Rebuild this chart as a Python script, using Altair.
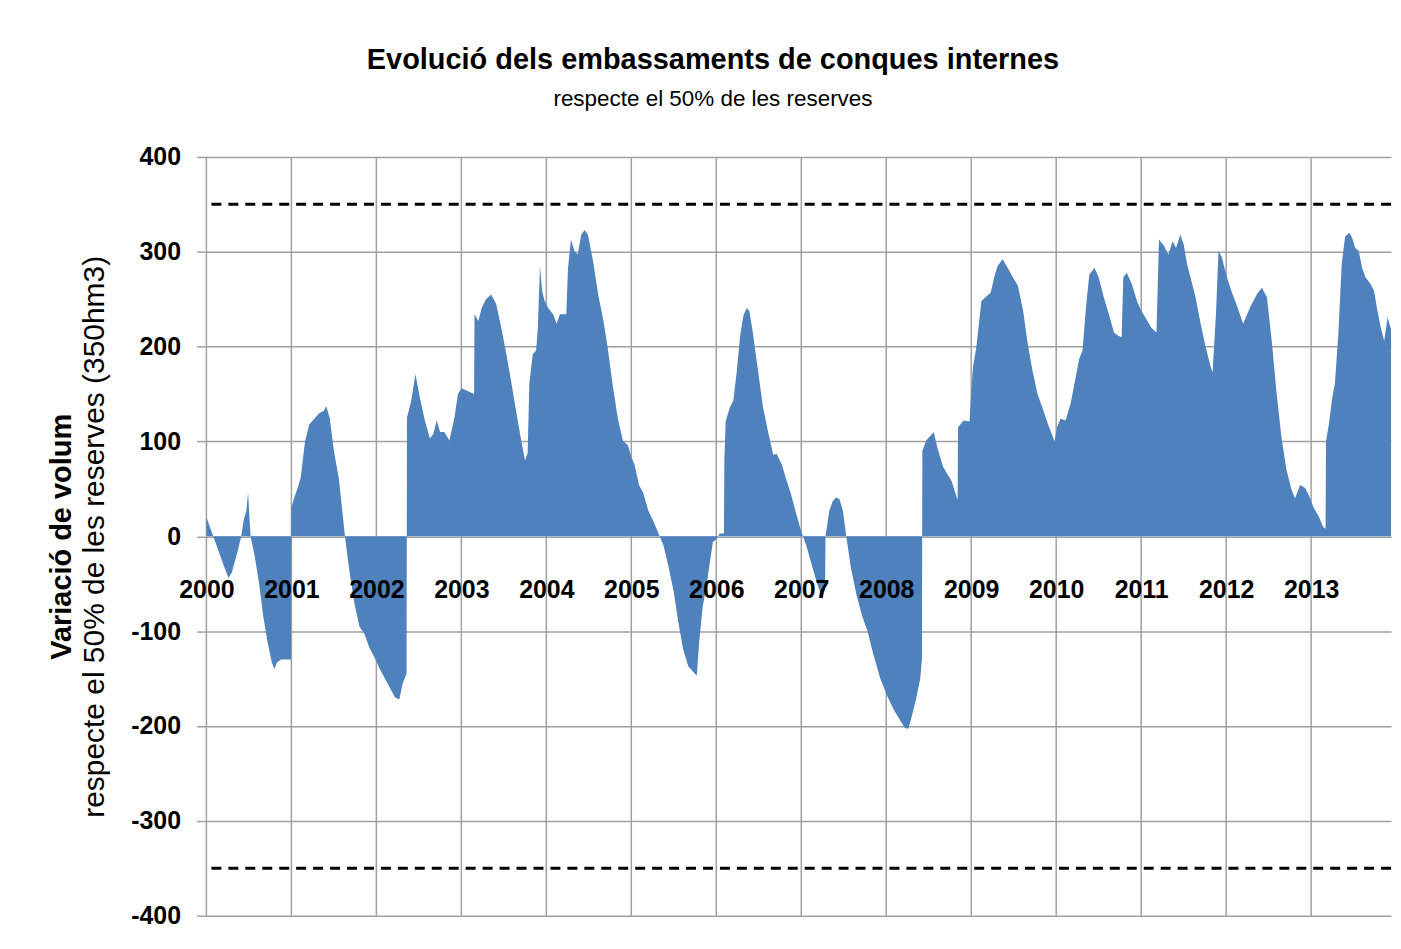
import altair as alt
import pandas as pd

# ---- data (decimal year, hm3 relative to 50% of reserves) ----
years = [
    2000.00, 2000.04, 2000.08, 2000.14, 2000.20, 2000.26, 2000.30, 2000.36, 2000.41, 2000.44,
    2000.47, 2000.49, 2000.505, 2000.52, 2000.57, 2000.62, 2000.67, 2000.72, 2000.77, 2000.80,
    2000.83, 2000.88, 2000.995, 2001.00, 2001.03, 2001.07, 2001.11, 2001.16, 2001.21, 2001.27,
    2001.33, 2001.38, 2001.41, 2001.45, 2001.50, 2001.56, 2001.63, 2001.68, 2001.74, 2001.80,
    2001.86, 2001.92, 2001.98, 2002.04, 2002.10, 2002.16, 2002.22, 2002.27, 2002.31, 2002.355,
    2002.36, 2002.41, 2002.46, 2002.51, 2002.57, 2002.63, 2002.67, 2002.71, 2002.75, 2002.80,
    2002.86, 2002.92, 2002.96, 2003.00, 2003.08, 2003.15, 2003.155, 2003.20, 2003.24, 2003.29,
    2003.35, 2003.41, 2003.47, 2003.53, 2003.59, 2003.65, 2003.71, 2003.75, 2003.78, 2003.80,
    2003.84, 2003.88, 2003.90, 2003.925, 2003.95, 2003.98, 2004.02, 2004.08, 2004.12, 2004.16,
    2004.235, 2004.255, 2004.29, 2004.33, 2004.37, 2004.41, 2004.45, 2004.49, 2004.55, 2004.61,
    2004.67, 2004.72, 2004.78, 2004.84, 2004.90, 2004.96, 2005.00, 2005.04, 2005.09, 2005.14,
    2005.20, 2005.26, 2005.32, 2005.38, 2005.44, 2005.50, 2005.55, 2005.61, 2005.67, 2005.73,
    2005.77, 2005.80, 2005.84, 2005.88, 2005.92, 2005.96, 2006.00, 2006.04, 2006.09, 2006.095,
    2006.11, 2006.16, 2006.20, 2006.24, 2006.28, 2006.32, 2006.36, 2006.39, 2006.43, 2006.49,
    2006.55, 2006.61, 2006.67, 2006.71, 2006.77, 2006.82, 2006.88, 2006.94, 2007.00, 2007.06,
    2007.12, 2007.18, 2007.25, 2007.28, 2007.285, 2007.33, 2007.37, 2007.41, 2007.45, 2007.49,
    2007.53, 2007.58, 2007.65, 2007.72, 2007.78, 2007.85, 2007.93, 2008.01, 2008.09, 2008.17,
    2008.22, 2008.26, 2008.30, 2008.35, 2008.40, 2008.42, 2008.425, 2008.47, 2008.56, 2008.60,
    2008.67, 2008.77, 2008.84, 2008.845, 2008.91, 2008.98, 2009.02, 2009.06, 2009.12, 2009.18,
    2009.23, 2009.27, 2009.31, 2009.37, 2009.43, 2009.49, 2009.55, 2009.61, 2009.66, 2009.72,
    2009.78, 2009.84, 2009.90, 2009.96, 2009.98, 2010.01, 2010.05, 2010.11, 2010.17, 2010.23,
    2010.27, 2010.31, 2010.35, 2010.39, 2010.45, 2010.50, 2010.56, 2010.62, 2010.68, 2010.72,
    2010.77, 2010.79, 2010.83, 2010.89, 2010.95, 2011.00, 2011.06, 2011.12, 2011.18, 2011.21,
    2011.27, 2011.32, 2011.37, 2011.41, 2011.46, 2011.50, 2011.54, 2011.58, 2011.64, 2011.70,
    2011.76, 2011.82, 2011.84, 2011.88, 2011.91, 2011.95, 2012.00, 2012.06, 2012.12, 2012.20,
    2012.28, 2012.36, 2012.42, 2012.48, 2012.54, 2012.59, 2012.65, 2012.71, 2012.77, 2012.81,
    2012.87, 2012.93, 2012.98, 2013.03, 2013.09, 2013.14, 2013.17, 2013.175, 2013.21, 2013.25,
    2013.28, 2013.32, 2013.36, 2013.40, 2013.45, 2013.48, 2013.52, 2013.56, 2013.60, 2013.64,
    2013.70, 2013.74, 2013.78, 2013.82, 2013.86, 2013.90, 2013.94,
]
values = [
    20, 10, 0, -15, -30, -44, -38, -18, 0, 18,
    27, 46, 22, 0, -22, -50, -85, -112, -133, -140,
    -133, -130, -130, 30, 40, 50, 62, 100, 118, 124,
    130, 132, 137, 125, 90, 60, 0, -35, -70, -95,
    -103, -118, -128, -140, -150, -160, -170, -172, -155, -145,
    125, 143, 171, 147, 122, 103, 108, 122, 110, 110,
    101, 126, 150, 156, 153, 150, 234, 227, 241, 250,
    255, 245, 220, 192, 161, 129, 98, 80, 88, 161,
    192, 196, 220, 285, 259, 248, 241, 234, 224, 234,
    234, 283, 313, 301, 297, 318, 323, 318, 290, 255,
    228, 200, 160, 125, 101, 96, 84, 75, 54, 46,
    27, 16, 3, -10, -33, -59, -89, -119, -137, -143,
    -147, -110, -74, -55, -30, -6, -3, 3, 3, 80,
    121, 136, 143, 173, 211, 233, 241, 237, 215, 175,
    136, 110, 86, 87, 76, 61, 44, 24, 5, -10,
    -29, -48, -66, -55, 0, 27, 37, 41, 39, 27,
    0, -31, -62, -85, -100, -125, -150, -168, -183, -195,
    -202, -203, -190, -172, -150, -130, 90, 101, 110, 94,
    73, 58, 38, 115, 122, 121, 178, 199, 248, 253,
    257, 273, 285, 292, 283, 273, 264, 238, 206, 175,
    150, 135, 119, 105, 100, 115, 124, 122, 140, 168,
    187, 196, 241, 276, 283, 273, 252, 234, 215, 212,
    210, 273, 278, 266, 248, 238, 229, 220, 215, 313,
    306, 297, 311, 304, 318, 308, 287, 273, 252, 224,
    199, 178, 173, 234, 301, 294, 276, 259, 245, 224,
    241, 255, 262, 252, 203, 154, 105, 70, 49, 40,
    54, 51, 42, 30, 21, 10, 8, 100, 119, 147,
    161, 213, 287, 316, 320, 315, 304, 301, 283, 273,
    266, 259, 238, 220, 206, 231, 218,
]
grid_years = list(range(2000, 2014))
limit_levels = [350, -350]
y_ticks = [-400, -300, -200, -100, 0, 100, 200, 300, 400]

title_text = "Evolució dels embassaments de conques internes"
subtitle_text = "respecte el 50% de les reserves"
y_title_1 = "Variació de volum"
y_title_2 = "respecte el 50% de les reserves (350hm3)"

FONT = "Liberation Sans, Arial, sans-serif"
GRID = "#a0a0a0"

series = pd.DataFrame({"t": years, "v": values})
grid_df = pd.DataFrame({"t": grid_years})
lim_df = pd.DataFrame({"v": limit_levels})

xscale = alt.Scale(domain=[2000, 2013.94], nice=False, zero=False)
yscale = alt.Scale(domain=[-400, 400], nice=False)

x_axis = alt.Axis(
    values=grid_years, format="d", title=None, orient="bottom",
    offset=-380.5, domain=False, ticks=False, tickSize=0, grid=False,
    labelFont=FONT, labelFontSize=25, labelFontWeight="bold", labelColor="black",
    labelPadding=41, labelFlush=False, labelOverlap=False, labelBound=False, zindex=2,
)

vgrid = alt.Chart(grid_df).mark_rule(color=GRID, strokeWidth=1.5).encode(
    x=alt.X("t:Q", scale=xscale, axis=x_axis)
)

area = alt.Chart(series).mark_area(color="#4F81BD", interpolate="linear").encode(
    x=alt.X("t:Q", scale=xscale, axis=x_axis),
    y=alt.Y(
        "v:Q", scale=yscale,
        axis=alt.Axis(
            values=y_ticks, orient="left", grid=True, gridColor=GRID, gridWidth=1.5,
            domain=False, ticks=True, tickSize=10, tickColor=GRID, tickWidth=1.5,
            labelExpr="'' + datum.value",
            labelFont=FONT, labelFontSize=25, labelFontWeight="bold", labelColor="black",
            labelPadding=16,
            title=y_title_1, titleFont=FONT, titleFontSize=29, titleFontWeight="bold",
            titleColor="black", titleX=-145, titleY=380.5, titleAngle=270,
            titleBaseline="middle", titleAlign="center",
        ),
    ),
)

limits = alt.Chart(lim_df).mark_rule(color="black", strokeWidth=3, strokeDash=[10, 7]).encode(
    y=alt.Y(
        "v:Q", scale=yscale,
        axis=alt.Axis(
            orient="left", labels=False, ticks=False, domain=False, grid=False,
            title=y_title_2, titleFont=FONT, titleFontSize=30, titleFontWeight="normal",
            titleColor="black", titleX=-112, titleY=380.5, titleAngle=270,
            titleBaseline="middle", titleAlign="center",
        ),
    )
)

chart = (
    alt.layer(vgrid, area, limits)
    .resolve_axis(y="independent")
    .resolve_scale(y="shared")
    .properties(
        width=1188,
        height=761,
        padding={"left": 199, "top": 148, "right": 2, "bottom": 20},
        autosize=alt.AutoSizeParams(type="none"),
        title=alt.TitleParams(
            text=title_text, subtitle=subtitle_text,
            font=FONT, fontSize=29, fontWeight="bold", color="black",
            subtitleFont=FONT, subtitleFontSize=22.5, subtitleColor="black",
            subtitlePadding=13, anchor="middle", frame="group", dx=-86, offset=35,
        ),
    )
    .configure(background="white")
    .configure_view(stroke=None)
)

chart.save("out.html", embed_options={"renderer": "svg", "actions": False})
